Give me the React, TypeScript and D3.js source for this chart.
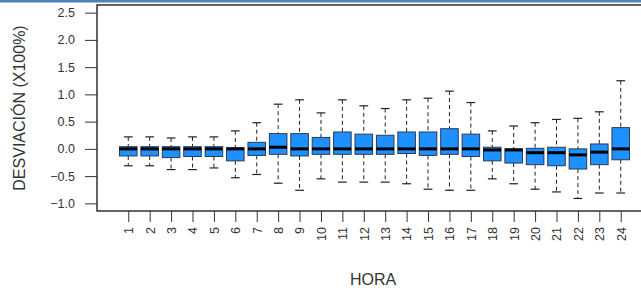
import { useEffect, useRef } from "react";
import * as d3 from "d3";

// hourly deviation boxplots (x100%)
const hours = d3.range(1, 25).map(String);
const whiskerLow = [-0.31, -0.31, -0.38, -0.38, -0.35, -0.53, -0.47, -0.63, -0.76, -0.55, -0.61, -0.61, -0.61, -0.64, -0.74, -0.76, -0.76, -0.55, -0.64, -0.74, -0.79, -0.91, -0.81, -0.81];
const q1 = [-0.13, -0.13, -0.16, -0.14, -0.14, -0.22, -0.12, -0.1, -0.13, -0.1, -0.1, -0.1, -0.1, -0.085, -0.12, -0.1, -0.14, -0.22, -0.26, -0.29, -0.31, -0.37, -0.29, -0.2];
const medians = [0.0, 0.0, 0.0, 0.0, 0.0, 0.0, 0.0, 0.03, 0.0, 0.0, 0.0, 0.0, 0.0, 0.0, 0.0, 0.0, 0.0, -0.02, -0.02, -0.07, -0.07, -0.11, -0.06, 0.0];
const q3 = [0.04, 0.04, 0.04, 0.04, 0.04, 0.02, 0.12, 0.28, 0.28, 0.21, 0.31, 0.27, 0.25, 0.31, 0.31, 0.37, 0.27, 0.03, 0.0, 0.01, 0.03, 0.0, 0.09, 0.39];
const whiskerHigh = [0.22, 0.22, 0.2, 0.22, 0.22, 0.33, 0.48, 0.82, 0.9, 0.66, 0.9, 0.79, 0.74, 0.9, 0.93, 1.06, 0.85, 0.33, 0.42, 0.48, 0.54, 0.56, 0.68, 1.25];
const yTicks = [-1.0, -0.5, 0.0, 0.5, 1.0, 1.5, 2.0, 2.5];

export default function App() {
  const svgRef = useRef<SVGSVGElement | null>(null);
  const width = 641;
  const height = 294;

  useEffect(() => {
    if (!svgRef.current) return;
    const svg = d3.select(svgRef.current);
    svg.selectAll("*").remove();

    const font = "'Liberation Sans', Arial, sans-serif";
    const left = 97, right = 652, top = 5, bottom = 211;

    // R style 4% padding on both axes
    const x = d3.scaleLinear().domain([-0.46, 25.46]).range([left, right]);
    const y = d3.scaleLinear().domain([-1.14, 2.64]).range([bottom, top]);
    const bw = (x(1) - x(0)) * 0.82;

    // blue band at the very top of the screenshot
    svg.append("rect").attr("x", 0).attr("y", 0).attr("width", width).attr("height", 2.5).attr("fill", "#4f81bd");

    svg.append("rect")
      .attr("x", left).attr("y", top)
      .attr("width", right - left).attr("height", bottom - top)
      .attr("fill", "none").attr("stroke", "#111").attr("stroke-width", 1.3);

    // y axis
    const yAxis = svg.append("g").attr("transform", `translate(${left},0)`)
      .call(d3.axisLeft(y).tickValues(yTicks).tickFormat(d3.format(".1f")).tickSize(12).tickSizeOuter(0));
    yAxis.select(".domain").remove();
    yAxis.selectAll("line").attr("stroke", "#333");
    yAxis.selectAll("text")
      .attr("x", -22)
      .attr("font-family", font).attr("font-size", 12.5).attr("fill", "#333");

    // x axis
    const xAxis = svg.append("g").attr("transform", `translate(0,${bottom})`)
      .call(d3.axisBottom(x).tickValues(d3.range(1, 25)).tickFormat((d) => hours[(d as number) - 1]).tickSize(11).tickSizeOuter(0));
    xAxis.select(".domain").remove();
    xAxis.selectAll("line").attr("stroke", "#333");
    xAxis.selectAll("text")
      .attr("transform", "rotate(-90)")
      .attr("x", -16).attr("y", 0).attr("dy", "0.35em")
      .style("text-anchor", "end")
      .attr("font-family", font).attr("font-size", 12.5).attr("fill", "#333");

    // boxes
    const g = svg.append("g");
    hours.forEach((_, i) => {
      const cx = x(i + 1);
      const dash = "4,3";
      g.append("line").attr("x1", cx).attr("x2", cx).attr("y1", y(whiskerHigh[i])).attr("y2", y(q3[i]))
        .attr("stroke", "#222").attr("stroke-dasharray", dash);
      g.append("line").attr("x1", cx).attr("x2", cx).attr("y1", y(q1[i])).attr("y2", y(whiskerLow[i]))
        .attr("stroke", "#222").attr("stroke-dasharray", dash);
      [whiskerHigh[i], whiskerLow[i]].forEach((v) => {
        g.append("line").attr("x1", cx - bw / 4).attr("x2", cx + bw / 4).attr("y1", y(v)).attr("y2", y(v))
          .attr("stroke", "#222").attr("stroke-width", 1.2);
      });
      g.append("rect")
        .attr("x", cx - bw / 2).attr("y", y(q3[i]))
        .attr("width", bw).attr("height", y(q1[i]) - y(q3[i]))
        .attr("fill", "#1e90ff").attr("stroke", "#2a3a55").attr("stroke-width", 1);
      g.append("line").attr("x1", cx - bw / 2).attr("x2", cx + bw / 2).attr("y1", y(medians[i])).attr("y2", y(medians[i]))
        .attr("stroke", "#000").attr("stroke-width", 3);
    });

    // axis titles
    svg.append("text")
      .attr("transform", `translate(25,${(top + bottom) / 2}) rotate(-90)`)
      .attr("text-anchor", "middle")
      .attr("font-family", font).attr("font-size", 16).attr("fill", "#333")
      .text("DESVIACIÓN (X100%)");
    svg.append("text")
      .attr("x", 373).attr("y", 285)
      .attr("text-anchor", "middle")
      .attr("font-family", font).attr("font-size", 16).attr("fill", "#333")
      .text("HORA");
  }, []);

  return (
    <svg ref={svgRef} width={width} height={height}
      style={{ position: "fixed", left: 0, top: 0, background: "#fff" }} />
  );
}
